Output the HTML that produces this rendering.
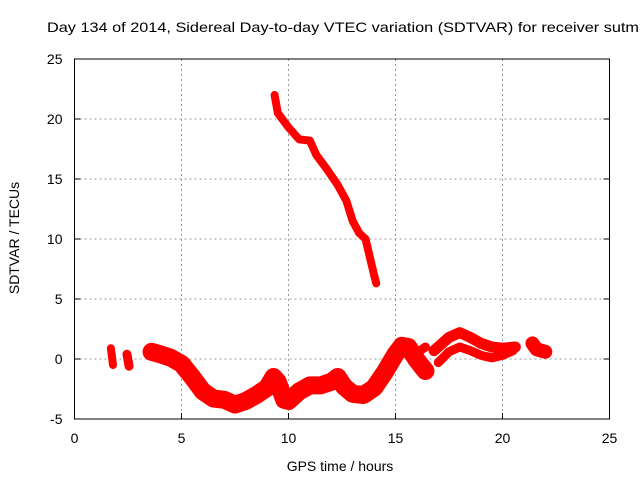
<!DOCTYPE html>
<html><head><meta charset="utf-8"><style>
html,body{margin:0;padding:0;background:#fff;}
svg{display:block;font-family:"Liberation Sans",sans-serif;}
</style></head><body>
<svg id="chart" width="640" height="480">
<text x="47" y="32" font-size="14" textLength="592" lengthAdjust="spacingAndGlyphs">Day 134 of 2014, Sidereal Day-to-day VTEC variation (SDTVAR) for receiver sutm</text>
<text x="340" y="471" font-size="14" text-anchor="middle">GPS time / hours</text>
<text transform="translate(19,238) rotate(-90)" font-size="14" text-anchor="middle">SDTVAR / TECUs</text>
<g id="grid"></g><g id="marks"></g><g id="axes"></g>
</svg>
<script>
const xTicks=[0,5,10,15,20,25];
const yTicks=[-5,0,5,10,15,20,25];
const segA=[[1.7,0.9],[1.75,0.2],[1.8,-0.5]];
const segB=[[2.45,0.4],[2.5,-0.1],[2.55,-0.6]];
const mainBand=[[3.6,0.6],[4,0.4],[4.5,0.1],[5,-0.4],[5.5,-1.5],[6,-2.7],[6.5,-3.3],[7,-3.4],[7.5,-3.8],[8,-3.5],[8.5,-3.0],[9,-2.4],[9.3,-1.5],[9.5,-1.9],[9.8,-3.4],[10,-3.5],[10.5,-2.7],[11,-2.2],[11.5,-2.2],[12,-1.9],[12.3,-1.5],[12.6,-2.3],[13,-2.9],[13.5,-3.0],[14,-2.4],[14.5,-1.1],[15,0.4],[15.3,1.1],[15.6,1.0],[16,-0.1],[16.4,-1.0]];
const forkBand=[[15.5,0.6],[15.9,0.4],[16.4,1.0]];
const upperBand=[[16.8,0.7],[17.5,1.8],[18,2.2],[18.5,1.8],[19,1.3],[19.5,1.0],[20,0.9],[20.6,1.0]];
const lowerBand=[[17,-0.3],[17.5,0.6],[18,1.0],[18.5,0.7],[19,0.3],[19.5,0.1],[20,0.3],[20.5,0.7]];
const lateBand=[[21.4,1.3],[21.6,0.8],[22,0.6]];
const topSeries=[[9.35,22],[9.5,20.5],[10,19.3],[10.5,18.3],[11,18.2],[11.3,17],[11.8,15.8],[12.3,14.5],[12.7,13.2],[13,11.5],[13.3,10.5],[13.6,10],[14,7],[14.1,6.3]];

const X0=74.5,X1=609.5,Y0=419,Y1=59;
const sx=v=>X0+(v-0)/(25-0)*(X1-X0);
const sy=v=>Y0-(v+5)/30*(Y0-Y1);
const NS="http://www.w3.org/2000/svg";
function mk(t,a,p){const e=document.createElementNS(NS,t);for(const k in a)e.setAttribute(k,a[k]);p.appendChild(e);return e;}
const grid=document.getElementById('grid'),axes=document.getElementById('axes'),marks=document.getElementById('marks');
xTicks.forEach(t=>{
  if(t>0&&t<25){const g=mk('line',{x1:sx(t),x2:sx(t),y1:Y1,y2:Y0,stroke:'#999','stroke-dasharray':'2,3'},grid);
  
  }
  const tl=mk('line',{x1:sx(t),x2:sx(t),y1:Y0,y2:Y0-6,stroke:'#000'},axes);
  
  
  const tx=mk('text',{x:sx(t),y:Y0+24,'font-size':14,'text-anchor':'middle'},axes);tx.textContent=t;
  
  
});
yTicks.forEach(t=>{
  if(t>-5&&t<25){const g=mk('line',{x1:X0,x2:X1,y1:sy(t),y2:sy(t),stroke:'#999','stroke-dasharray':'2,3'},grid);
  
  }
  const tl=mk('line',{x1:X0,x2:X0+6,y1:sy(t),y2:sy(t),stroke:'#000'},axes);
  
  
  mk('line',{x1:X1,x2:X1-6,y1:sy(t),y2:sy(t),stroke:'#000'},axes);
  const tx=mk('text',{x:X0-12,y:sy(t)+5,'font-size':14,'text-anchor':'end'},axes);tx.textContent=t;
  
  
});
const fr=mk('rect',{x:X0,y:Y1,width:X1-X0,height:Y0-Y1,fill:'none',stroke:'#000'},axes);


function band(arr,w,name){
  const p=mk('polyline',{points:arr.map(d=>sx(d[0])+','+sy(d[1])).join(' '),fill:'none',stroke:'#f00','stroke-width':w,'stroke-linejoin':'round','stroke-linecap':'round'},marks);
  
  
}
band(segA,8,'series-segment-a');
band(segB,9,'series-segment-b');
band(mainBand,18,'series-main-band');
band(forkBand,9,'series-fork-band');
band(upperBand,11,'series-upper-band');
band(lowerBand,9,'series-lower-band');
band(lateBand,14,'series-late-band');
band(topSeries,8,'series-top-branch');
</script>
</body></html>
